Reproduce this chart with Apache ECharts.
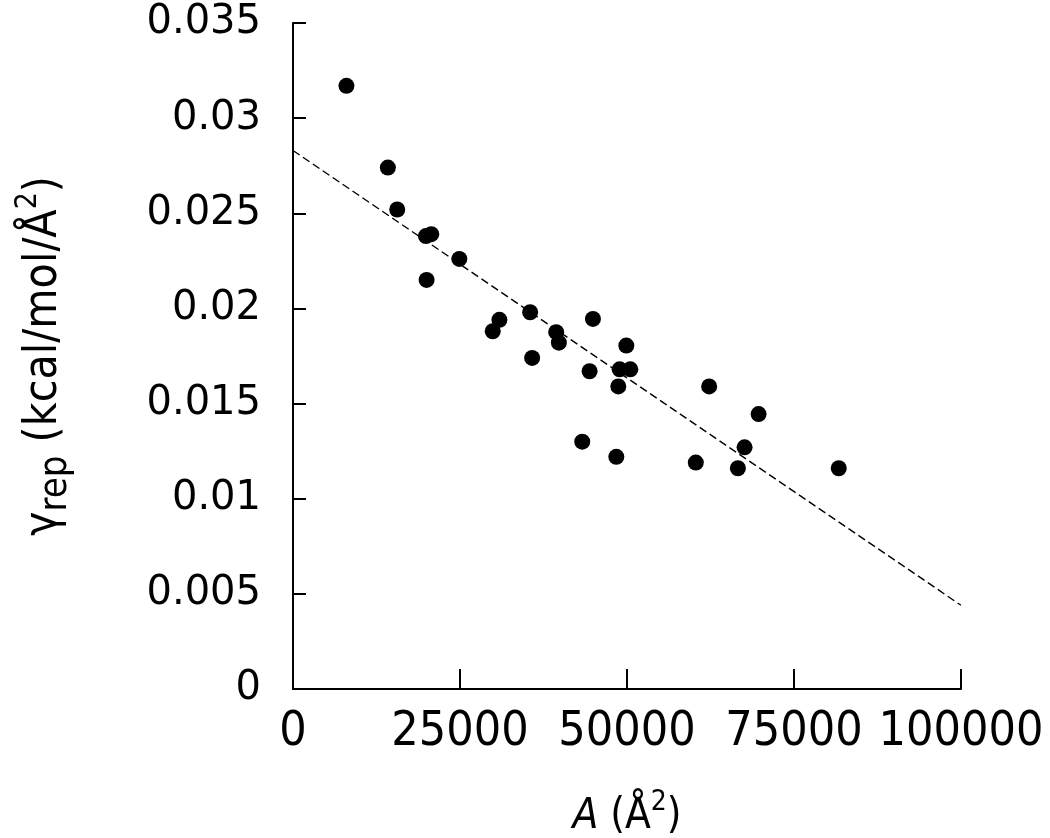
<!DOCTYPE html>
<html>
<head>
<meta charset="utf-8">
<script src="https://cdn.jsdelivr.net/npm/echarts@6/dist/echarts.min.js"></script>
<style>
  html, body { margin: 0; padding: 0; background: #fff; }
  #chart { width: 1050px; height: 838px; }
</style>
</head>
<body>
<div id="chart"></div>
<script>
// surface area A (Å^2) and gamma_rep (kcal/mol/Å^2)
var areaValues = [8000, 14200, 15600, 19900, 20700, 20000, 24900, 35500, 30900, 29900,
  39400, 39800, 44900, 35800, 49900, 44400, 48900, 50500, 48700, 62300,
  69700, 43300, 48400, 60300, 67600, 66600, 81700];
var gammaValues = [0.0317, 0.0274, 0.0252, 0.0238, 0.0239, 0.0215, 0.0226, 0.0198, 0.0194, 0.0188,
  0.01875, 0.0182, 0.01945, 0.0174, 0.01805, 0.0167, 0.0168, 0.0168, 0.0159, 0.0159,
  0.01445, 0.0130, 0.0122, 0.0119, 0.0127, 0.0116, 0.0116];
// linear fit, endpoints
var fitX = [0, 100000];
var fitY = [0.0283, 0.0044];

var points = areaValues.map(function(a, i) { return [a, gammaValues[i]]; });
var fitLine = fitX.map(function(a, i) { return [a, fitY[i]]; });

var myChart = echarts.init(document.getElementById('chart'));
var option = {
    animation: false,
    backgroundColor: '#fff',
    grid: {
        left: 293,
        right: 89,
        top: 23,
        bottom: 149,
        outerBoundsMode: 'none',
        containLabel: false
    },
    xAxis: {
        type: 'value',
        min: 0,
        max: 100000,
        interval: 25000,
        name: '{it|A} (Å{sup|2})',
        nameLocation: 'middle',
        nameGap: 100,
        nameTextStyle: {
            fontFamily: 'DejaVu Sans Condensed',
            fontSize: 42,
            color: '#000',
            rich: {
                it: { fontFamily: 'DejaVu Sans Condensed', fontStyle: 'italic', fontSize: 42, color: '#000' },
                sup: { fontFamily: 'DejaVu Sans Condensed', fontSize: 28, color: '#000', verticalAlign: 'top', lineHeight: 56 }
            }
        },
        axisLine: { lineStyle: { color: '#000', width: 2 } },
        axisTick: { inside: true, length: 20, lineStyle: { color: '#000', width: 2 } },
        axisLabel: {
            margin: 20,
            fontFamily: 'DejaVu Sans Condensed',
            fontSize: 48,
            color: '#000',
            formatter: function(v) { return String(v); }
        },
        splitLine: { show: false }
    },
    yAxis: {
        type: 'value',
        min: 0,
        max: 0.035,
        interval: 0.005,
        name: 'γ{sub|rep} (kcal/mol/Å{sup|2})',
        nameLocation: 'middle',
        nameGap: 218,
        nameTextStyle: {
            fontFamily: 'DejaVu Sans Condensed',
            fontSize: 46,
            color: '#000',
            rich: {
                sub: { fontFamily: 'DejaVu Sans Condensed', fontSize: 38, color: '#000', verticalAlign: 'bottom', lineHeight: 48 },
                sup: { fontFamily: 'DejaVu Sans Condensed', fontSize: 30, color: '#000', verticalAlign: 'top', lineHeight: 62 }
            }
        },
        axisLine: { show: true, lineStyle: { color: '#000', width: 2 } },
        axisTick: { show: true, inside: true, length: 13, lineStyle: { color: '#000', width: 2 } },
        axisLabel: {
            margin: 32,
            fontFamily: 'DejaVu Sans',
            fontSize: 40,
            color: '#000'
        },
        splitLine: { show: false }
    },
    series: [
        {
            type: 'line',
            data: fitLine,
            showSymbol: false,
            symbol: 'none',
            lineStyle: { color: '#000', width: 1.4, type: [8, 4] },
            z: 1
        },
        {
            type: 'scatter',
            data: points,
            symbol: 'circle',
            symbolSize: 16,
            itemStyle: { color: '#000', opacity: 1 },
            z: 2
        }
    ]
};
myChart.setOption(option);
</script>
</body>
</html>
